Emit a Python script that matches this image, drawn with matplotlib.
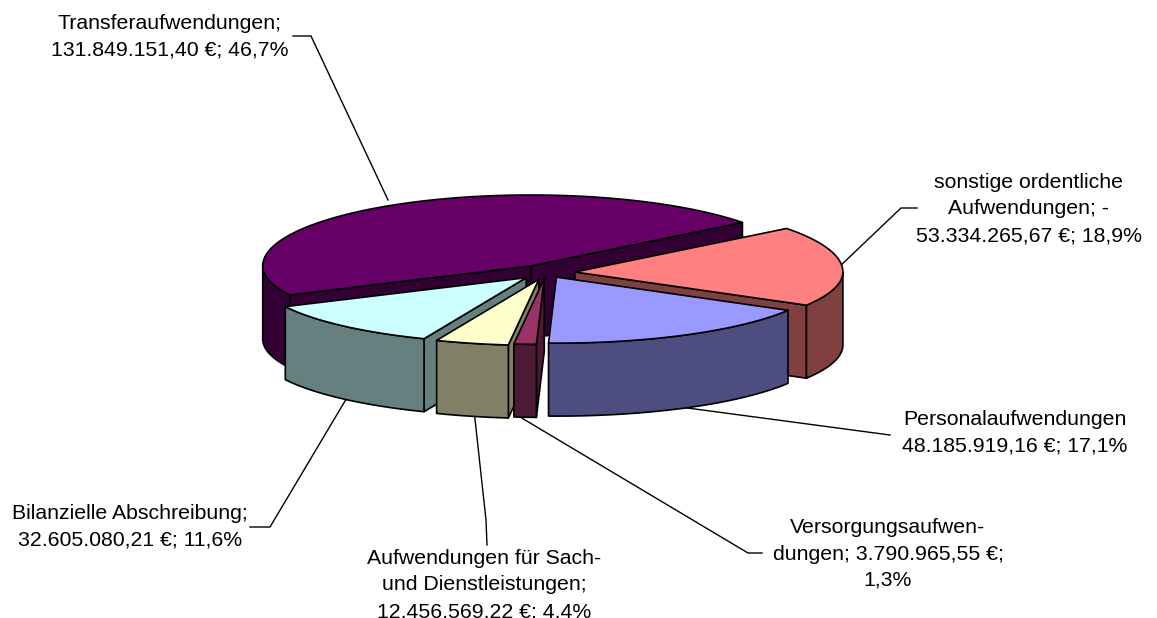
#!/usr/bin/env python3
import numpy as np
import matplotlib
matplotlib.use("Agg")
import matplotlib.pyplot as plt
from matplotlib.patches import Polygon

names = ["Transferaufwendungen", "sonstige ordentliche Aufwendungen", "Personalaufwendungen",
         "Versorgungsaufwendungen", "Aufwendungen für Sach- und Dienstleistungen", "Bilanzielle Abschreibung"]
amounts = [131849151.40, 53334265.67, 48185919.16, 3790965.55, 12456569.22, 32605080.21]
labels = ["Transferaufwendungen;\n131.849.151,40 €; 46,7%",
          "sonstige ordentliche\nAufwendungen; -\n53.334.265,67 €; 18,9%",
          "Personalaufwendungen\n48.185.919,16 €; 17,1%",
          "Versorgungsaufwen-\ndungen; 3.790.965,55 €;\n1,3%",
          "Aufwendungen für Sach-\nund Dienstleistungen;\n12.456.569,22 €; 4,4%",
          "Bilanzielle Abschreibung;\n32.605.080,21 €; 11,6%"]
top_colors = ["#660066", "#FF8080", "#9999FF", "#993366", "#FFFFCC", "#CCFFFF"]
side_colors = ["#330033", "#804040", "#4D4D80", "#4D1A33", "#808066", "#668080"]

# pie geometry in pixels, the front half is a bit flatter than the back
cx, cy = 546, 272.5
rx = 268
ry_back, ry_front = 71, 66
depth = 73
start = 206
explode = [0.108, 0.108, 0.08, 0.09, 0.108, 0.108]

# leader lines and label centres
leaders = [[(293, 36), (311, 36), (388, 200)],
           [(917, 208), (901, 208), (838, 268)],
           [(890, 435), (680, 407)],
           [(762, 553), (748, 553), (515, 414)],
           [(487, 545), (486, 520), (474, 410)],
           [(250, 527), (270, 527), (348, 396)]]
label_pos = [(170, 37), (1029, 209), (1015, 433), (888, 554), (484, 585), (130, 527)]

LW = 1.2

fig = plt.figure(figsize=(11.57, 6.18), dpi=100)
ax = fig.add_axes([0, 0, 1, 1])
ax.set_xlim(0, 1157)
ax.set_ylim(618, 0)
ax.axis("off")

for pts in leaders:
    ax.plot([p[0] for p in pts], [p[1] for p in pts], color="black", lw=1.0, zorder=1)


def wall(ax, pts, color, z):
    # extrude a line of top-surface points downwards
    pts = np.array(pts)
    low = pts + [0, depth]
    ax.add_patch(Polygon(np.vstack([pts, low[::-1]]), closed=True, fc=color, ec="black",
                         lw=LW, joinstyle="round", zorder=z))


fractions = np.array(amounts) / sum(amounts)
spans = fractions * 360
a0 = start
slices = []
for i, s in enumerate(spans):
    slices.append((i, a0, a0 - s))
    a0 -= s

# back to front
order = [0, 1, 5, 4, 3, 2]
z = 2
for i in order:
    _, a_hi, a_lo = slices[i]
    mid = np.radians((a_hi + a_lo) / 2)
    mid_ry = ry_back if np.sin(mid) > 0 else ry_front
    ox = cx + np.cos(mid) * explode[i] * rx
    oy = cy - np.sin(mid) * explode[i] * mid_ry
    t = np.radians(np.linspace(a_hi, a_lo, 120))
    ry = np.where(np.sin(t) > 0, ry_back, ry_front)
    ax_x = ox + rx * np.cos(t)
    ax_y = oy - ry * np.sin(t)
    arc = np.column_stack([ax_x, ax_y])
    apex = np.array([ox, oy])
    centre = np.vstack([arc, apex]).mean(axis=0)

    # radial walls that face the viewer
    faces = []
    for end in (arc[0], arc[-1]):
        d = end - apex
        n = np.array([d[1], -d[0]])
        if np.dot(n, centre - apex) > 0:
            n = -n
        if n[1] > 0:
            faces.append((end, (apex + end)[1]))
    faces.sort(key=lambda f: f[1])
    for end, _k in faces:
        wall(ax, [apex, end], side_colors[i], z)
        z += 1

    # curved outer wall, only lower half shows
    front = arc[np.sin(t) <= 0]
    if len(front) > 1:
        wall(ax, front, side_colors[i], z)
        z += 1

    ax.add_patch(Polygon(np.vstack([apex, arc]), closed=True, fc=top_colors[i], ec="black",
                         lw=LW, joinstyle="round", zorder=z))
    z += 1

for lab, (x, y) in zip(labels, label_pos):
    ax.text(x, y, lab, ha="center", va="center", fontsize=15.3, family="Liberation Sans",
            linespacing=1.5, color="black", zorder=50, clip_on=True)

fig.savefig("out.png", dpi=100)
